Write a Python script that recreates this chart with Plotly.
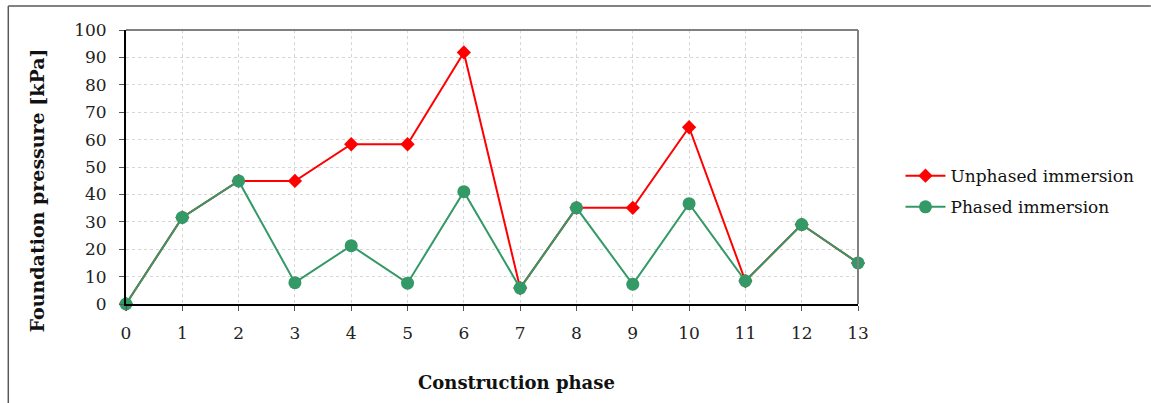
import plotly.graph_objects as go

phases = list(range(14))
unphased = [0, 31.6, 44.9, 44.9, 58.3, 58.3, 91.8, 5.8, 35.1, 35.1, 64.5, 8.4, 29.0, 15.0]
phased = [0, 31.6, 44.9, 7.8, 21.3, 7.6, 41.0, 5.8, 35.1, 7.2, 36.6, 8.4, 29.0, 15.0]
x_ticks = list(range(14))
y_ticks = list(range(0, 101, 10))

FONT = "DejaVu Serif"
RED = "#FF0000"
GREEN = "#339966"

fig = go.Figure()
fig.add_trace(go.Scatter(x=phases, y=unphased, mode="lines+markers", name="Unphased immersion",
                         legendgroup="a",
                         line=dict(color=RED, width=2),
                         marker=dict(symbol="diamond", size=11, color=RED), cliponaxis=False))
fig.add_trace(go.Scatter(x=phases, y=phased, mode="lines+markers", name="Phased immersion",
                         legendgroup="b",
                         line=dict(color=GREEN, width=2),
                         marker=dict(symbol="circle", size=13, color=GREEN), cliponaxis=False))

fig.update_layout(
    width=1151, height=403,
    margin=dict(l=126, r=291, t=30, b=99),
    paper_bgcolor="white", plot_bgcolor="white",
    font=dict(family=FONT, size=17, color="#222222"),
    showlegend=True,
    legend=dict(x=1.058, y=0.41, xanchor="left", yanchor="middle",
                font=dict(family=FONT, size=17, color="#111111"),
                bgcolor="rgba(0,0,0,0)", itemwidth=40, tracegroupgap=6),
    xaxis=dict(range=[0, 13], tickvals=x_ticks, ticktext=[str(v) for v in x_ticks],
               showgrid=True, gridcolor="#d6d6d6", griddash="dot", gridwidth=1,
               showline=True, linecolor="black", linewidth=2,
               ticks="outside", ticklen=5, tickcolor="#555555", tickwidth=1,
               ticklabelstandoff=8, zeroline=False,
               tickfont=dict(family=FONT, size=17, color="#222222")),
    yaxis=dict(range=[0, 100], tickvals=y_ticks, ticktext=[str(v) for v in y_ticks],
               showgrid=True, gridcolor="#d6d6d6", griddash="dot", gridwidth=1,
               showline=True, linecolor="black", linewidth=2,
               ticks="outside", ticklen=5, tickcolor="#555555", tickwidth=1,
               ticklabelstandoff=9, zeroline=False,
               tickfont=dict(family=FONT, size=17, color="#222222")),
    shapes=[
        dict(type="line", xref="paper", yref="paper", x0=0, x1=1, y0=1, y1=1,
             line=dict(color="#808080", width=2)),
        dict(type="line", xref="paper", yref="paper", x0=1, x1=1, y0=0, y1=1,
             line=dict(color="#808080", width=2)),
        dict(type="line", xref="paper", yref="paper", x0=-0.1608, x1=1.4, y0=1.0876, y1=1.0876,
             line=dict(color="#595959", width=1.5)),
        dict(type="line", xref="paper", yref="paper", x0=-0.1608, x1=-0.1608, y0=1.0876, y1=-0.5,
             line=dict(color="#595959", width=1.5)),
    ],
    annotations=[
        dict(text="<b>Foundation pressure [kPa]</b>", xref="paper", yref="paper",
             x=-0.121, y=0.416, xanchor="center", yanchor="middle", textangle=-90,
             showarrow=False, font=dict(family=FONT, size=19, color="#111111")),
        dict(text="<b>Construction phase</b>", xref="paper", yref="paper",
             x=0.534, y=-0.288, xanchor="center", yanchor="middle",
             showarrow=False, font=dict(family=FONT, size=18, color="#111111")),
    ],
)

fig.write_html("out.html", config={"displayModeBar": False},
               post_script="document.body.style.margin='0';document.body.style.overflow='hidden';")
